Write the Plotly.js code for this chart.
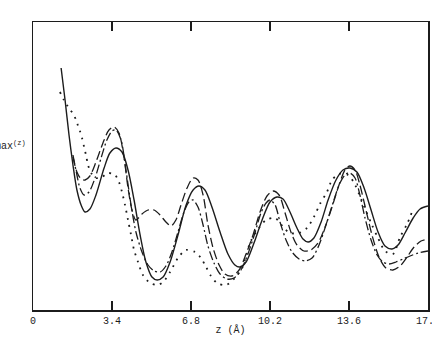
<!DOCTYPE html>
<html>
<head>
<meta charset="utf-8">
<script src="https://cdn.plot.ly/plotly-3.0.1.min.js"></script>
<style>html,body{margin:0;padding:0;background:#fff;}#chart{width:432px;height:337px;}</style>
</head>
<body>
<div id="chart"></div>
<script>
// z in Angstrom, values in arbitrary units
const solidZ = [1.21,1.38,1.55,1.72,1.89,2.07,2.24,2.45,2.71,3.06,3.31,3.57,3.83,4.09,4.35,4.61,4.86,5.12,5.34,5.60,5.90,6.24,6.59,6.89,7.14,7.40,7.70,8.05,8.39,8.69,8.91,9.17,9.51,9.86,10.20,10.50,10.76,11.06,11.36,11.62,11.84,12.09,12.40,12.70,13.04,13.34,13.64,13.94,14.25,14.55,14.85,15.15,15.45,15.71,16.01,16.36,16.66,17.00];
const solidY = [242,210,175,145,120,105,98,101,115,142,157,162,158,140,110,75,48,33,30,33,48,75,105,120,124,120,103,78,56,45,43,48,67,90,108,113,111,98,82,71,68,72,88,110,130,140,142,138,122,100,78,64,61,65,77,92,101,104];

const longDashZ = [1.72,1.89,2.07,2.24,2.45,2.71,3.01,3.27,3.49,3.70,3.92,4.09,4.26,4.43,4.69,4.95,5.21,5.47,5.72,5.94,6.15,6.37,6.63,6.89,7.10,7.32,7.53,7.75,8.01,8.26,8.56,8.87,9.17,9.47,9.77,10.07,10.33,10.59,10.85,11.10,11.36,11.66,11.96,12.27,12.57,12.87,13.17,13.43,13.64,13.86,14.07,14.33,14.59,14.89,15.19,15.49,15.80,16.10,16.40,16.70,17.00];
const longDashY = [153,138,131,130,134,148,167,180,183,177,152,122,100,90,96,100,100,95,88,84,90,105,122,132,130,115,85,62,45,36,34,40,56,75,98,114,119,115,97,78,65,59,60,67,83,103,125,140,144,140,125,100,75,53,42,40,44,53,63,69,71];

const dashDotZ = [1.72,1.89,2.02,2.20,2.41,2.67,2.93,3.18,3.40,3.57,3.79,4.00,4.22,4.43,4.69,4.95,5.21,5.47,5.72,5.98,6.24,6.50,6.71,6.89,7.10,7.32,7.53,7.79,8.05,8.35,8.65,8.95,9.25,9.55,9.81,10.03,10.20,10.42,10.63,10.89,11.15,11.45,11.71,12.01,12.31,12.61,12.91,13.21,13.47,13.64,13.86,14.07,14.29,14.55,14.81,15.06,15.32,15.62,15.92,16.23,16.57,17.00];
const dashDotY = [155,135,122,115,118,132,152,170,179,180,170,140,105,78,58,45,39,38,44,58,78,98,108,110,103,85,64,47,36,31,32,40,56,77,97,107,110,105,88,70,58,51,49,52,65,85,107,127,136,137,132,115,92,70,55,48,46,48,51,54,57,59];

const dottedZ = [1.16,1.33,1.46,1.59,1.72,1.85,1.94,2.02,2.11,2.20,2.28,2.37,2.50,2.71,2.97,3.23,3.53,3.70,3.83,3.96,4.09,4.22,4.35,4.52,4.73,5.04,5.34,5.60,5.90,6.24,6.58,6.97,7.23,7.45,7.66,7.92,8.31,8.69,9.00,9.17,9.34,9.60,10.03,10.42,10.80,11.06,11.45,11.79,12.09,12.35,12.65,12.87,13.17,13.56,13.82,14.07,14.33,14.59,14.85,15.15,15.49,15.80,16.10,16.31];
const dottedY = [218,210,205,200,197,190,184,179,172,163,155,145,137,132,133,137,135,128,118,105,90,75,60,48,35,27,25,28,38,52,60,58,52,43,34,27,25,32,42,54,67,78,90,92,82,77,77,82,93,106,118,130,136,135,127,114,99,85,72,59,56,73,86,98];

const tickVals = [0, 3.4, 6.8, 10.2, 13.6, 17.0];
const tickText = ["0", "3.4", "6.8", "10.2", "13.6", "17.0"];

const ink = '#1c1c1c';
const mono = 'Liberation Mono, DejaVu Sans Mono, monospace';

function series(x, y, dash, width) {
  return {x: x, y: y, type: 'scatter', mode: 'lines', hoverinfo: 'skip',
    line: {color: ink, width: width, dash: dash, shape: 'spline', smoothing: 0.8}};
}

const data = [
  series(solidZ, solidY, 'solid', 1.4),
  series(longDashZ, longDashY, '9px,4px', 1.3),
  series(dashDotZ, dashDotY, '9px,3px,2px,3px', 1.3),
  series(dottedZ, dottedY, '1.8px,5.5px', 1.8)
];

const layout = {
  width: 432, height: 337,
  margin: {l: 33, r: 4, t: 22, b: 27},
  paper_bgcolor: '#fff', plot_bgcolor: '#fff',
  showlegend: false,
  font: {family: mono, size: 10, color: ink},
  xaxis: {
    range: [0, 17], tickvals: tickVals, ticktext: tickText,
    ticks: 'inside', ticklen: 9, tickwidth: 1.4, tickcolor: ink,
    showline: true, linecolor: ink, linewidth: 1.5, mirror: 'allticks',
    showgrid: false, zeroline: false, automargin: false,
    ticklabeloverflow: 'allow',
    tickfont: {family: mono, size: 10, color: ink},
    title: {text: 'z (Å)', font: {family: mono, size: 10, color: ink}, standoff: 0}
  },
  yaxis: {
    range: [0, 288], showticklabels: false, ticks: '',
    showline: true, linecolor: ink, linewidth: 1.5, mirror: true,
    showgrid: false, zeroline: false, automargin: false
  },
  annotations: [{
    xref: 'paper', yref: 'paper', x: -0.013, y: 0.57,
    xanchor: 'right', yanchor: 'middle', showarrow: false,
    text: 'max<sup>(z)</sup>', font: {family: mono, size: 10, color: ink}
  }]
};

Plotly.newPlot('chart', data, layout, {staticPlot: true, displayModeBar: false});
</script>
</body>
</html>
